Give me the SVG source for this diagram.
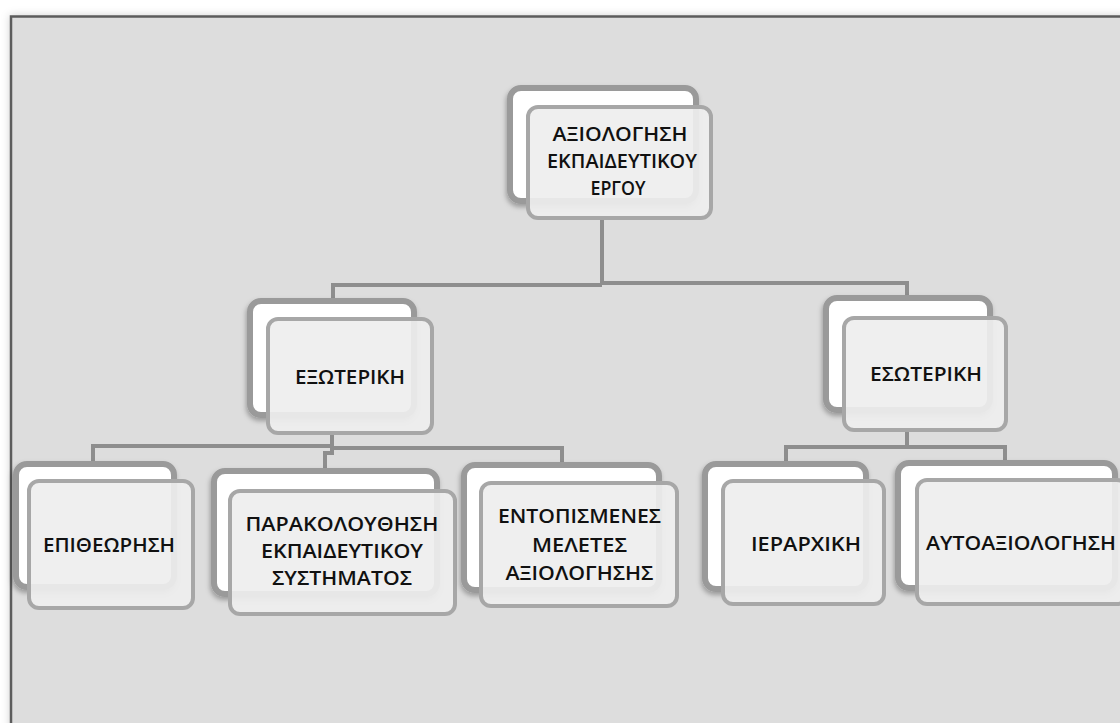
<svg xmlns="http://www.w3.org/2000/svg" width="1120" height="723" viewBox="0 0 1120 723">
<defs>
<filter id="panelShadow" x="-5%" y="-5%" width="110%" height="110%">
<feDropShadow dx="0" dy="0" stdDeviation="4" flood-color="#000" flood-opacity="0.18"/>
</filter>
<filter id="boxShadow" x="-10%" y="-10%" width="125%" height="125%">
<feDropShadow dx="-1" dy="3" stdDeviation="2.5" flood-color="#000" flood-opacity="0.3"/>
</filter>
<style>
.back{fill:#ffffff;stroke:#9a9a9a;stroke-width:6;filter:url(#boxShadow)}
.front{fill:#eeeeee;fill-opacity:0.92;stroke:#a7a7a7;stroke-width:4}
.conn{fill:none;stroke:#8e8e8e;stroke-width:4;stroke-linejoin:miter}
.t{font-family:"Open Sans","Noto Sans","DejaVu Sans",sans-serif;font-size:20px;font-weight:600;fill:#111111;text-anchor:middle}
</style>
</defs>
<rect x="0" y="0" width="1120" height="723" fill="#ffffff"/>
<rect x="11" y="16.5" width="1200" height="800" fill="#dddddd" stroke="#5c5c5c" stroke-width="2.5" filter="url(#panelShadow)"/>
<g id="connectors">
<path class="conn" d="M602 220 V285 M333 298 V285 H602 M602 283 H907 V295"/>
<path class="conn" d="M332 435 V447 M93 461 V446 H332 M332 448 H562 V462 M332 448 V453 H325 V468"/>
<path class="conn" d="M907 432 V447 M786 461 V447 H1005 V461"/>
</g>
<g id="node-root">
<rect class="back" x="510" y="88" width="186" height="113" rx="11"/>
<rect class="front" x="528" y="107" width="183" height="111" rx="10"/>
<text class="t" x="620" y="140.5" textLength="135" lengthAdjust="spacingAndGlyphs">ΑΞΙΟΛΟΓΗΣΗ</text>
<text class="t" x="622" y="167.5" textLength="150" lengthAdjust="spacingAndGlyphs">ΕΚΠΑΙΔΕΥΤΙΚΟΥ</text>
<text class="t" x="618" y="194.5" textLength="55" lengthAdjust="spacingAndGlyphs">ΕΡΓΟΥ</text>
</g>
<g id="node-exoteriki">
<rect class="back" x="250" y="301" width="164" height="114" rx="11"/>
<rect class="front" x="268" y="319" width="164" height="114" rx="10"/>
<text class="t" x="350" y="384" textLength="110" lengthAdjust="spacingAndGlyphs">ΕΞΩΤΕΡΙΚΗ</text>
</g>
<g id="node-esoteriki">
<rect class="back" x="826" y="298" width="164" height="112" rx="11"/>
<rect class="front" x="844" y="318" width="162" height="112" rx="10"/>
<text class="t" x="926" y="381" textLength="112" lengthAdjust="spacingAndGlyphs">ΕΣΩΤΕΡΙΚΗ</text>
</g>
<g id="node-epitheorisi">
<rect class="back" x="16" y="464" width="158" height="123" rx="11"/>
<rect class="front" x="29" y="481" width="164" height="127" rx="10"/>
<text class="t" x="109" y="552" textLength="132" lengthAdjust="spacingAndGlyphs">ΕΠΙΘΕΩΡΗΣΗ</text>
</g>
<g id="node-parakolouthisi">
<rect class="back" x="214" y="471" width="223" height="123" rx="11"/>
<rect class="front" x="230" y="491" width="225" height="123" rx="10"/>
<text class="t" x="342" y="531" textLength="193" lengthAdjust="spacingAndGlyphs">ΠΑΡΑΚΟΛΟΥΘΗΣΗ</text>
<text class="t" x="342" y="558" textLength="162" lengthAdjust="spacingAndGlyphs">ΕΚΠΑΙΔΕΥΤΙΚΟΥ</text>
<text class="t" x="342" y="585" textLength="140" lengthAdjust="spacingAndGlyphs">ΣΥΣΤΗΜΑΤΟΣ</text>
</g>
<g id="node-entopismenes">
<rect class="back" x="464" y="465" width="195" height="125" rx="11"/>
<rect class="front" x="481" y="483" width="196" height="123" rx="10"/>
<text class="t" x="579.5" y="523" textLength="163" lengthAdjust="spacingAndGlyphs">ΕΝΤΟΠΙΣΜΕΝΕΣ</text>
<text class="t" x="579.5" y="551.5" textLength="95" lengthAdjust="spacingAndGlyphs">ΜΕΛΕΤΕΣ</text>
<text class="t" x="579.5" y="580" textLength="148" lengthAdjust="spacingAndGlyphs">ΑΞΙΟΛΟΓΗΣΗΣ</text>
</g>
<g id="node-ierarxiki">
<rect class="back" x="705" y="464" width="161" height="125" rx="11"/>
<rect class="front" x="723" y="481" width="161" height="123" rx="10"/>
<text class="t" x="806" y="551" textLength="110" lengthAdjust="spacingAndGlyphs">ΙΕΡΑΡΧΙΚΗ</text>
</g>
<g id="node-autoaxiologisi">
<rect class="back" x="898" y="463" width="217" height="125" rx="11"/>
<rect class="front" x="917" y="480" width="210" height="124" rx="10"/>
<text class="t" x="926" y="550" textLength="190" lengthAdjust="spacingAndGlyphs" style="text-anchor:start">ΑΥΤΟΑΞΙΟΛΟΓΗΣΗ</text>
</g>
</svg>
